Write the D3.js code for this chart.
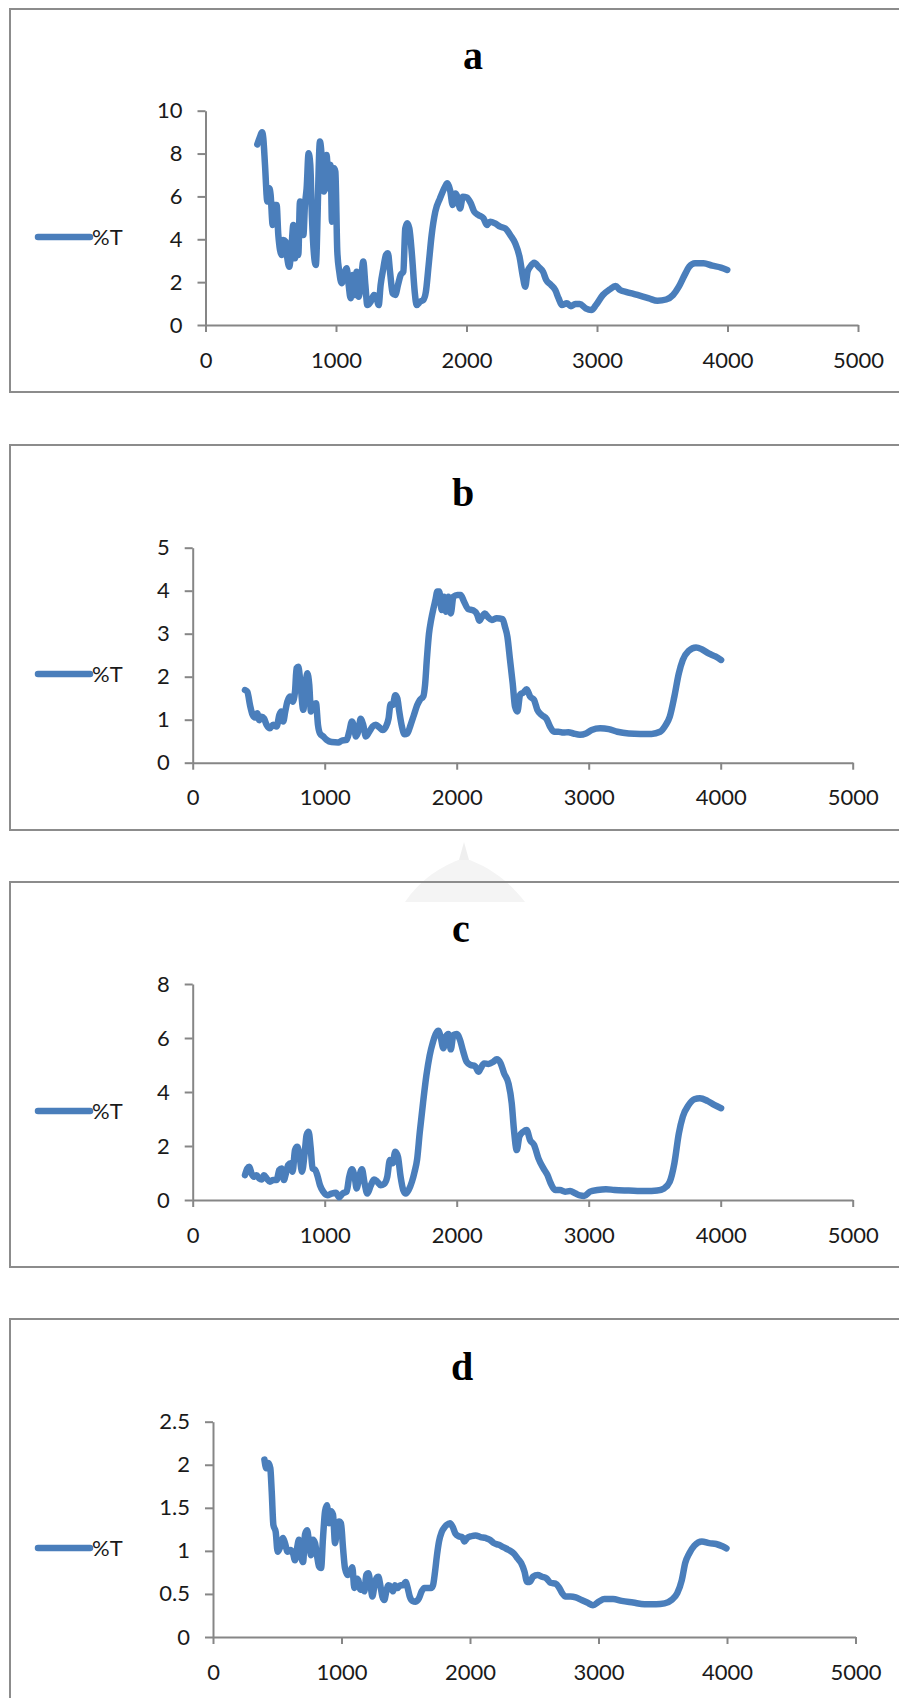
<!DOCTYPE html>
<html>
<head>
<meta charset="utf-8">
<script src="https://cdn.jsdelivr.net/npm/d3@7"></script>
<style>
  html, body { margin: 0; padding: 0; background: #fff; }
  svg { display: block; }
</style>
</head>
<body>
<div id="chart"></div>
<script>
// x axis is shared by all four spectra
const xTicks = [0, 1000, 2000, 3000, 4000, 5000];
const seriesName = '%T';

// panel a
const yTicksA = [0, 2, 4, 6, 8, 10];
const wnA = [397,418,433,443,456,474,489,499,515,530,545,558,584,596,614,627,642,660,673,686,699,711,724,737,750,762,775,790,803,816,845,877,898,908,928,944,959,969,985,995,1010,1025,1043,1061,1082,1097,1112,1128,1143,1158,1174,1189,1209,1225,1240,1266,1291,1311,1327,1342,1363,1383,1398,1414,1434,1454,1475,1495,1516,1531,1546,1562,1582,1603,1618,1644,1669,1689,1710,1733,1761,1797,1835,1853,1874,1894,1915,1930,1951,1972,2002,2033,2059,2092,2130,2156,2181,2220,2258,2297,2335,2373,2406,2432,2450,2468,2488,2519,2552,2586,2611,2647,2680,2706,2731,2769,2800,2833,2868,2913,2957,2992,3045,3098,3142,3177,3221,3310,3398,3464,3530,3583,3627,3672,3707,3751,3817,3883,3950,3998];
const tA = [8.43,8.79,9.0,8.71,7.47,5.76,6.38,6.07,4.67,5.6,5.6,4.2,3.27,3.97,3.89,3.11,2.72,3.74,4.67,3.11,4.51,3.27,5.76,5.6,4.2,5.6,6.38,8.01,7.47,4.98,2.8,8.56,7.16,6.23,7.93,6.38,7.47,4.82,7.31,7.16,3.42,2.49,1.95,2.33,2.65,1.87,1.25,2.33,1.4,2.49,1.32,1.87,2.96,1.87,0.93,1.09,1.4,1.25,0.93,1.87,2.65,3.27,3.35,2.49,1.48,1.4,1.87,2.33,2.49,4.51,4.75,4.51,3.27,1.56,0.93,1.09,1.17,1.56,2.8,4.2,5.29,5.91,6.45,6.61,6.3,5.6,6.14,5.99,5.44,5.99,5.95,5.68,5.29,5.13,4.98,4.67,4.82,4.74,4.59,4.51,4.2,3.81,3.19,2.26,1.79,2.49,2.72,2.91,2.72,2.49,2.1,1.87,1.63,1.24,0.93,1.01,0.88,0.98,0.98,0.78,0.7,0.93,1.4,1.66,1.82,1.63,1.55,1.4,1.24,1.13,1.19,1.4,1.79,2.34,2.72,2.88,2.88,2.77,2.68,2.57];

// panel b
const yTicksB = [0, 1, 2, 3, 4, 5];
const wnB = [396,414,434,454,472,489,504,522,540,560,585,610,636,656,671,686,701,717,737,757,775,787,800,813,838,853,868,883,896,913,934,949,964,989,1015,1052,1103,1128,1166,1186,1206,1222,1237,1257,1272,1292,1312,1338,1363,1388,1414,1439,1464,1484,1499,1515,1535,1550,1565,1585,1605,1626,1651,1676,1701,1721,1748,1760,1775,1790,1805,1825,1840,1853,1868,1886,1904,1919,1937,1955,1975,2005,2030,2055,2088,2126,2156,2171,2189,2214,2239,2265,2303,2348,2366,2384,2404,2424,2442,2460,2480,2505,2530,2556,2586,2611,2644,2682,2707,2737,2770,2808,2846,2884,2934,2979,3023,3087,3152,3217,3303,3390,3476,3541,3584,3614,3649,3683,3713,3757,3813,3856,3908,3960,4003];
const tB = [1.69,1.65,1.34,1.11,1.05,1.15,0.99,1.07,1.03,0.88,0.8,0.88,0.84,1.11,1.19,0.96,1.19,1.42,1.54,1.42,1.65,2.2,2.23,1.96,1.23,1.73,2.08,1.81,1.19,1.34,1.38,0.88,0.68,0.61,0.53,0.48,0.47,0.51,0.53,0.72,0.96,0.84,0.61,0.76,1.02,0.88,0.61,0.72,0.84,0.88,0.82,0.76,0.84,1.03,1.36,1.34,1.57,1.5,1.19,0.84,0.66,0.68,0.88,1.11,1.34,1.46,1.55,1.8,2.45,3.0,3.3,3.6,3.8,3.98,3.98,3.55,3.86,3.51,3.86,3.47,3.86,3.9,3.9,3.75,3.57,3.54,3.44,3.3,3.38,3.47,3.38,3.32,3.36,3.34,3.16,2.93,2.39,1.85,1.3,1.19,1.58,1.63,1.71,1.54,1.46,1.23,1.11,1.01,0.84,0.72,0.72,0.7,0.71,0.68,0.65,0.68,0.76,0.8,0.78,0.72,0.68,0.67,0.67,0.72,0.88,1.07,1.54,2.08,2.39,2.6,2.68,2.64,2.54,2.47,2.39];

// panel c
const yTicksC = [0, 2, 4, 6, 8];
const wnC = [396,414,429,446,464,484,504,522,540,560,585,610,636,656,674,691,706,724,742,757,775,792,807,828,848,863,878,893,908,929,944,964,989,1020,1052,1085,1110,1136,1166,1186,1206,1227,1242,1262,1282,1302,1323,1348,1373,1398,1424,1449,1474,1494,1514,1535,1555,1575,1595,1615,1636,1661,1681,1700,1720,1745,1770,1795,1820,1843,1861,1878,1899,1919,1937,1955,1975,2000,2025,2050,2075,2106,2139,2164,2182,2207,2240,2278,2303,2333,2359,2392,2417,2434,2455,2475,2505,2530,2556,2586,2619,2657,2687,2712,2745,2783,2821,2859,2897,2934,2966,3010,3066,3131,3195,3303,3433,3519,3571,3614,3649,3683,3713,3757,3800,3843,3899,3951,4003];
const tC = [0.92,1.17,1.23,0.98,0.86,0.92,0.8,0.76,0.92,0.8,0.68,0.74,0.74,1.11,1.17,0.74,0.98,1.3,1.36,1.05,1.85,1.97,1.73,1.05,1.73,2.41,2.53,1.97,1.17,1.11,0.92,0.55,0.31,0.18,0.24,0.27,0.1,0.24,0.31,0.86,1.14,0.86,0.43,0.86,1.14,0.62,0.24,0.52,0.76,0.68,0.55,0.59,0.86,1.48,1.36,1.79,1.6,0.86,0.37,0.24,0.37,0.68,1.05,1.5,2.5,3.6,4.6,5.35,5.85,6.17,6.27,6.05,5.62,6.05,6.15,5.58,6.11,6.15,5.93,5.49,5.12,5.0,4.96,4.75,4.88,5.06,5.04,5.12,5.21,5.06,4.69,4.32,3.58,2.59,1.85,2.35,2.53,2.59,2.22,2.04,1.54,1.17,0.93,0.62,0.37,0.37,0.31,0.33,0.25,0.17,0.15,0.31,0.37,0.4,0.37,0.35,0.33,0.35,0.43,0.68,1.36,2.47,3.09,3.52,3.73,3.77,3.67,3.52,3.4];

// panel d
const yTicksD = [0, 0.5, 1, 1.5, 2, 2.5];
const wnD = [400,415,431,446,457,470,488,503,524,545,560,581,602,623,638,654,669,685,701,716,732,747,763,778,794,809,825,841,856,872,887,903,918,934,950,965,981,996,1012,1027,1048,1069,1084,1100,1116,1131,1147,1162,1178,1193,1209,1225,1240,1256,1271,1287,1302,1318,1333,1349,1365,1385,1401,1416,1437,1458,1479,1499,1515,1531,1551,1577,1603,1624,1645,1671,1697,1712,1728,1743,1759,1780,1805,1818,1844,1865,1887,1913,1939,1957,1978,2009,2043,2082,2121,2154,2185,2224,2263,2302,2341,2372,2398,2424,2444,2465,2491,2527,2561,2595,2626,2665,2691,2717,2743,2782,2823,2868,2912,2957,3002,3046,3113,3180,3269,3358,3448,3514,3568,3613,3648,3675,3706,3746,3804,3862,3916,3969,3996];
const tD = [2.06,1.96,2.02,1.96,1.69,1.3,1.22,0.99,1.05,1.15,1.09,0.99,1.01,0.97,0.89,1.03,1.13,0.95,0.87,1.19,1.24,1.11,0.95,1.13,1.09,0.95,0.82,0.8,1.15,1.46,1.53,1.32,1.46,1.42,1.09,1.26,1.34,1.32,1.03,0.8,0.72,0.76,0.81,0.57,0.68,0.66,0.55,0.6,0.53,0.72,0.74,0.62,0.47,0.59,0.68,0.7,0.6,0.47,0.43,0.53,0.6,0.58,0.53,0.6,0.57,0.6,0.6,0.64,0.57,0.47,0.42,0.41,0.45,0.53,0.57,0.57,0.57,0.6,0.76,0.95,1.11,1.22,1.28,1.3,1.32,1.28,1.2,1.17,1.16,1.11,1.15,1.17,1.18,1.16,1.15,1.13,1.09,1.07,1.04,1.01,0.97,0.91,0.86,0.76,0.64,0.64,0.7,0.72,0.7,0.68,0.63,0.62,0.58,0.51,0.47,0.47,0.46,0.43,0.4,0.37,0.41,0.44,0.44,0.42,0.4,0.38,0.38,0.39,0.43,0.51,0.66,0.86,0.97,1.06,1.11,1.09,1.08,1.05,1.03];

const W = 899, H = 1698;
const lineColor = '#4a7ebb';
const axisColor = '#868686';
const frameColor = '#8c8c8c';
const lineWidth = 6.5;

const panels = [
  {title: 'a', wn: wnA, t: tA, yTicks: yTicksA, top: 9,    bottom: 392,  left: 205.5, right: 858,   yBase: 325,  yTop: 110.7, titleX: 473, titleY: 69,   legendY: 237},
  {title: 'b', wn: wnB, t: tB, yTicks: yTicksB, top: 445,  bottom: 830,  left: 192.7, right: 852.7, yBase: 762.7, yTop: 547.7, titleX: 463, titleY: 506, legendY: 674},
  {title: 'c', wn: wnC, t: tC, yTicks: yTicksC, top: 882,  bottom: 1267, left: 192.7, right: 852.7, yBase: 1200, yTop: 984,   titleX: 461, titleY: 942, legendY: 1111},
  {title: 'd', wn: wnD, t: tD, yTicks: yTicksD, top: 1319, bottom: 1760, left: 213,   right: 855.5, yBase: 1637, yTop: 1421.7, titleX: 462, titleY: 1380, legendY: 1548},
];

const svg = d3.select('#chart').append('svg')
  .attr('width', W)
  .attr('height', H);

// very faint watermark behind panel c's top edge
svg.append('path')
  .attr('d', 'M405,902 C420,880 440,866 464,858 C488,866 508,880 525,902 Z')
  .attr('fill', '#f4f4f4');
svg.append('path')
  .attr('d', 'M459,860 L464,842 L469,860 Z')
  .attr('fill', '#efefef');

function drawPanel(p) {
  const g = svg.append('g');

  g.append('rect')
    .attr('x', 10).attr('y', p.top)
    .attr('width', 920).attr('height', p.bottom - p.top)
    .attr('fill', 'none')
    .attr('stroke', frameColor)
    .attr('stroke-width', 2);

  g.append('text')
    .attr('x', p.titleX).attr('y', p.titleY)
    .attr('text-anchor', 'middle')
    .attr('font-family', '"Liberation Serif", "Times New Roman", serif')
    .attr('font-weight', 'bold')
    .attr('font-size', 40)
    .attr('fill', '#000')
    .text(p.title);

  const x = d3.scaleLinear().domain([0, 5000]).range([p.left, p.right]);
  const y = d3.scaleLinear()
    .domain([0, p.yTicks[p.yTicks.length - 1]])
    .range([p.yBase, p.yTop]);

  const xAxis = g.append('g')
    .attr('transform', `translate(0,${p.yBase})`)
    .call(d3.axisBottom(x).tickValues(xTicks).tickSize(7).tickSizeOuter(0).tickPadding(20).tickFormat(d3.format('d')));
  const yAxis = g.append('g')
    .attr('transform', `translate(${p.left},0)`)
    .call(d3.axisLeft(y).tickValues(p.yTicks).tickSize(8).tickSizeOuter(0).tickPadding(15).tickFormat(d => String(d)));

  [xAxis, yAxis].forEach(a => {
    a.select('.domain').attr('stroke', axisColor).attr('stroke-width', 2);
    a.selectAll('.tick line').attr('stroke', axisColor).attr('stroke-width', 2);
    a.selectAll('.tick text')
      .attr('font-family', 'Lato, "Liberation Sans", sans-serif')
      .attr('font-size', 22)
      .attr('fill', '#1a1a1a');
  });

  const pts = p.wn.map((w, i) => [w, p.t[i]]);
  const line = d3.line()
    .x(d => x(d[0]))
    .y(d => y(d[1]))
    .curve(d3.curveMonotoneX);

  g.append('path')
    .datum(pts)
    .attr('d', line)
    .attr('fill', 'none')
    .attr('stroke', lineColor)
    .attr('stroke-width', lineWidth)
    .attr('stroke-linejoin', 'round')
    .attr('stroke-linecap', 'round');

  // legend
  g.append('line')
    .attr('x1', 38).attr('x2', 90)
    .attr('y1', p.legendY).attr('y2', p.legendY)
    .attr('stroke', lineColor)
    .attr('stroke-width', lineWidth)
    .attr('stroke-linecap', 'round');
  g.append('text')
    .attr('x', 92).attr('y', p.legendY)
    .attr('dy', '0.36em')
    .attr('font-family', 'Lato, "Liberation Sans", sans-serif')
    .attr('font-size', 22)
    .attr('fill', '#1a1a1a')
    .text(seriesName);
}

panels.forEach(drawPanel);
</script>
</body>
</html>
